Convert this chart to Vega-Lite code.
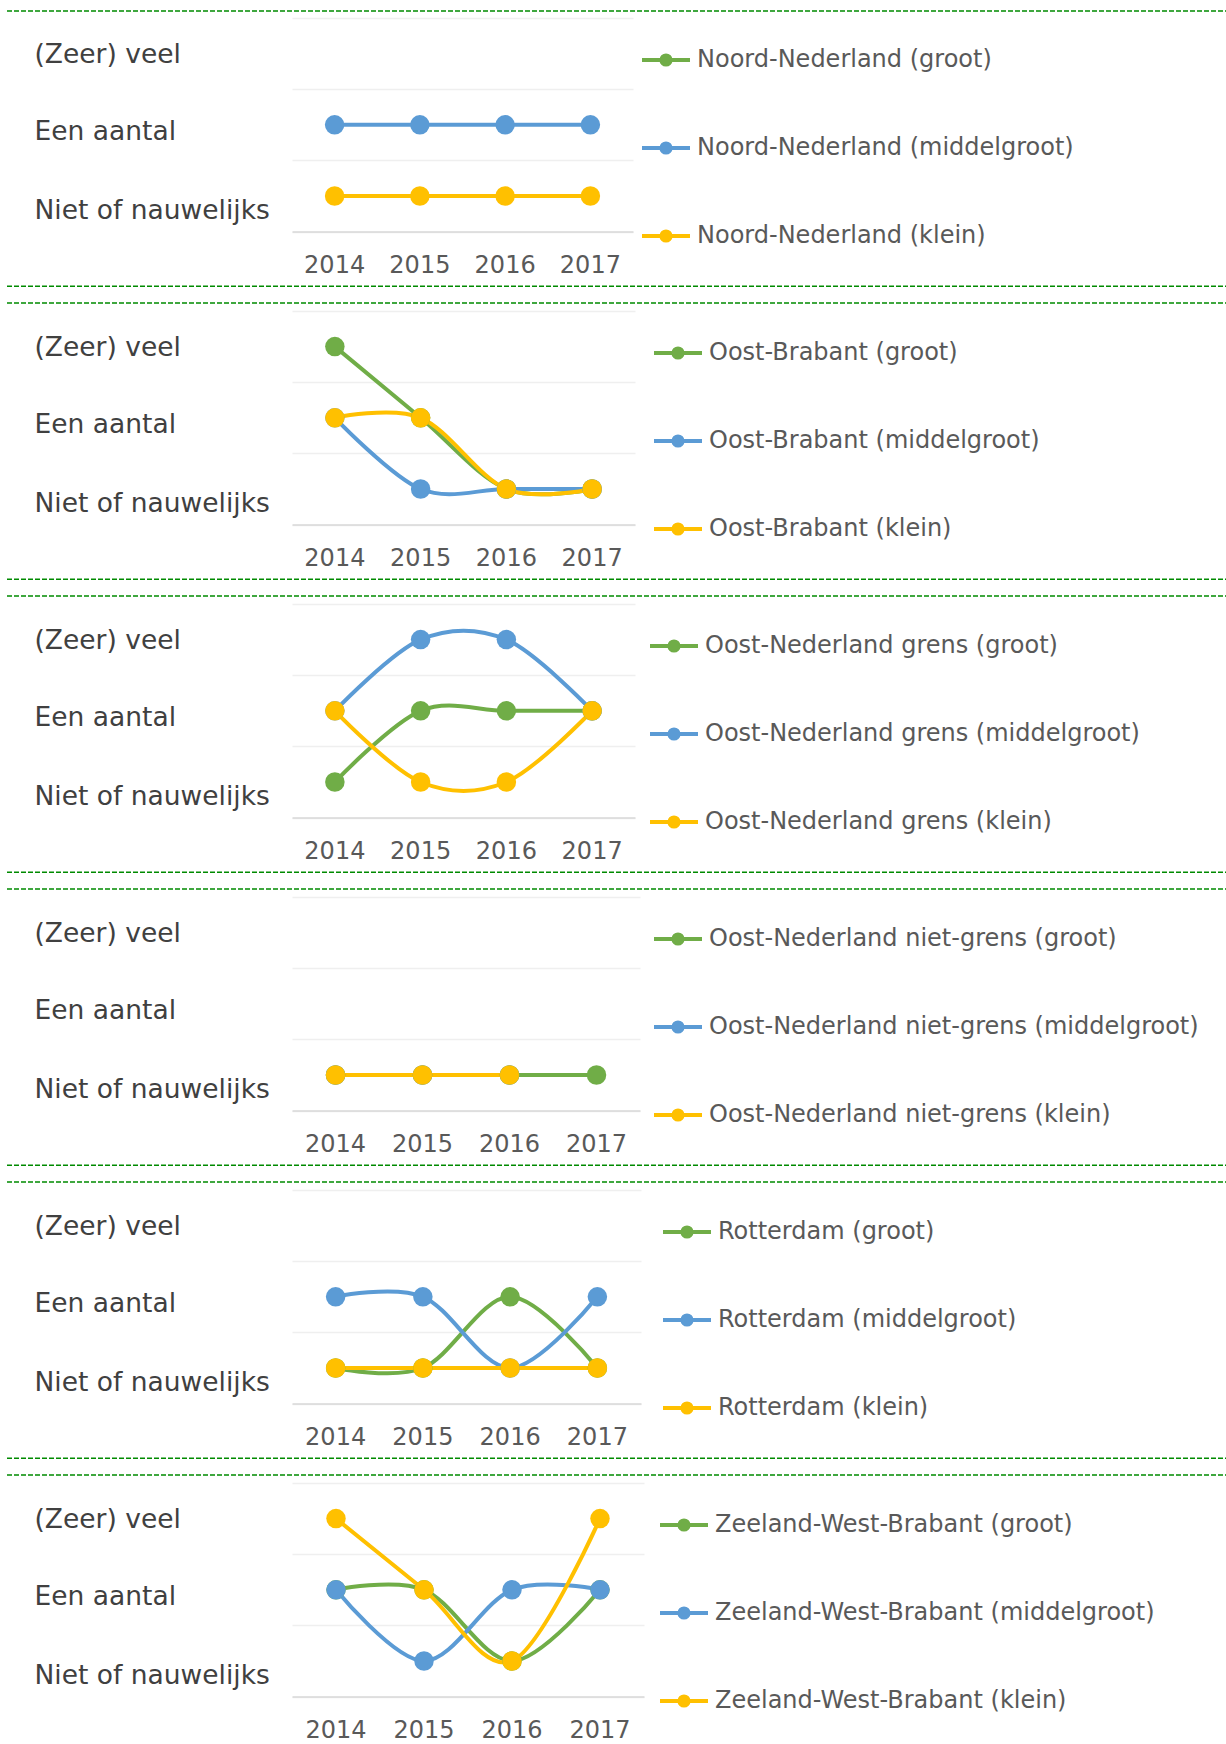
{
  "$schema": "https://vega.github.io/schema/vega-lite/v6.json",
  "padding": {"left": 6, "top": 5, "right": 0, "bottom": 0},
  "background": "white",
  "spacing": 0,
  "bounds": "flush",
  "resolve": {"scale": {"color": "independent"}},
  "config": {
    "view": {"stroke": null},
    "font": "DejaVu Sans",
    "concat": {"spacing": 0},
    "axisX": {"labelAngle": 0},
    "legend": {
      "orient": "none",
      "title": null,
      "padding": 0,
      "symbolType": "M-1,0H1M-0.02,0A0.02,0.02 0 1,1 0.02,0A0.02,0.02 0 1,1 -0.02,0M-0.117,0A0.117,0.117 0 1,1 0.117,0A0.117,0.117 0 1,1 -0.117,0M-0.19,0A0.19,0.19 0 1,1 0.19,0A0.19,0.19 0 1,1 -0.19,0",
      "symbolSize": 2304,
      "symbolStrokeWidth": 4,
      "symbolOpacity": 1,
      "labelFontSize": 24,
      "labelColor": "#595959",
      "labelFont": "DejaVu Sans",
      "labelOffset": 5,
      "labelLimit": 0,
      "rowPadding": 49,
      "legendY": 16
    }
  },
  "datasets": {
    "sep": [{"lijn": "boven"}, {"lijn": "onder"}],
    "sep1": [{"lijn": "boven"}],
    "d": [
      {"region": "Noord-Nederland", "series": "Noord-Nederland (middelgroot)", "year": "2014", "level": "Een aantal"},
      {"region": "Noord-Nederland", "series": "Noord-Nederland (middelgroot)", "year": "2015", "level": "Een aantal"},
      {"region": "Noord-Nederland", "series": "Noord-Nederland (middelgroot)", "year": "2016", "level": "Een aantal"},
      {"region": "Noord-Nederland", "series": "Noord-Nederland (middelgroot)", "year": "2017", "level": "Een aantal"},
      {"region": "Noord-Nederland", "series": "Noord-Nederland (klein)", "year": "2014", "level": "Niet of nauwelijks"},
      {"region": "Noord-Nederland", "series": "Noord-Nederland (klein)", "year": "2015", "level": "Niet of nauwelijks"},
      {"region": "Noord-Nederland", "series": "Noord-Nederland (klein)", "year": "2016", "level": "Niet of nauwelijks"},
      {"region": "Noord-Nederland", "series": "Noord-Nederland (klein)", "year": "2017", "level": "Niet of nauwelijks"},

      {"region": "Oost-Brabant", "series": "Oost-Brabant (groot)", "year": "2014", "level": "(Zeer) veel"},
      {"region": "Oost-Brabant", "series": "Oost-Brabant (groot)", "year": "2015", "level": "Een aantal"},
      {"region": "Oost-Brabant", "series": "Oost-Brabant (groot)", "year": "2016", "level": "Niet of nauwelijks"},
      {"region": "Oost-Brabant", "series": "Oost-Brabant (groot)", "year": "2017", "level": "Niet of nauwelijks"},
      {"region": "Oost-Brabant", "series": "Oost-Brabant (middelgroot)", "year": "2014", "level": "Een aantal"},
      {"region": "Oost-Brabant", "series": "Oost-Brabant (middelgroot)", "year": "2015", "level": "Niet of nauwelijks"},
      {"region": "Oost-Brabant", "series": "Oost-Brabant (middelgroot)", "year": "2016", "level": "Niet of nauwelijks"},
      {"region": "Oost-Brabant", "series": "Oost-Brabant (middelgroot)", "year": "2017", "level": "Niet of nauwelijks"},
      {"region": "Oost-Brabant", "series": "Oost-Brabant (klein)", "year": "2014", "level": "Een aantal"},
      {"region": "Oost-Brabant", "series": "Oost-Brabant (klein)", "year": "2015", "level": "Een aantal"},
      {"region": "Oost-Brabant", "series": "Oost-Brabant (klein)", "year": "2016", "level": "Niet of nauwelijks"},
      {"region": "Oost-Brabant", "series": "Oost-Brabant (klein)", "year": "2017", "level": "Niet of nauwelijks"},

      {"region": "Oost-Nederland grens", "series": "Oost-Nederland grens (groot)", "year": "2014", "level": "Niet of nauwelijks"},
      {"region": "Oost-Nederland grens", "series": "Oost-Nederland grens (groot)", "year": "2015", "level": "Een aantal"},
      {"region": "Oost-Nederland grens", "series": "Oost-Nederland grens (groot)", "year": "2016", "level": "Een aantal"},
      {"region": "Oost-Nederland grens", "series": "Oost-Nederland grens (groot)", "year": "2017", "level": "Een aantal"},
      {"region": "Oost-Nederland grens", "series": "Oost-Nederland grens (middelgroot)", "year": "2014", "level": "Een aantal"},
      {"region": "Oost-Nederland grens", "series": "Oost-Nederland grens (middelgroot)", "year": "2015", "level": "(Zeer) veel"},
      {"region": "Oost-Nederland grens", "series": "Oost-Nederland grens (middelgroot)", "year": "2016", "level": "(Zeer) veel"},
      {"region": "Oost-Nederland grens", "series": "Oost-Nederland grens (middelgroot)", "year": "2017", "level": "Een aantal"},
      {"region": "Oost-Nederland grens", "series": "Oost-Nederland grens (klein)", "year": "2014", "level": "Een aantal"},
      {"region": "Oost-Nederland grens", "series": "Oost-Nederland grens (klein)", "year": "2015", "level": "Niet of nauwelijks"},
      {"region": "Oost-Nederland grens", "series": "Oost-Nederland grens (klein)", "year": "2016", "level": "Niet of nauwelijks"},
      {"region": "Oost-Nederland grens", "series": "Oost-Nederland grens (klein)", "year": "2017", "level": "Een aantal"},

      {"region": "Oost-Nederland niet-grens", "series": "Oost-Nederland niet-grens (groot)", "year": "2014", "level": "Niet of nauwelijks"},
      {"region": "Oost-Nederland niet-grens", "series": "Oost-Nederland niet-grens (groot)", "year": "2015", "level": "Niet of nauwelijks"},
      {"region": "Oost-Nederland niet-grens", "series": "Oost-Nederland niet-grens (groot)", "year": "2016", "level": "Niet of nauwelijks"},
      {"region": "Oost-Nederland niet-grens", "series": "Oost-Nederland niet-grens (groot)", "year": "2017", "level": "Niet of nauwelijks"},
      {"region": "Oost-Nederland niet-grens", "series": "Oost-Nederland niet-grens (middelgroot)", "year": "2014", "level": "Niet of nauwelijks"},
      {"region": "Oost-Nederland niet-grens", "series": "Oost-Nederland niet-grens (middelgroot)", "year": "2015", "level": "Niet of nauwelijks"},
      {"region": "Oost-Nederland niet-grens", "series": "Oost-Nederland niet-grens (middelgroot)", "year": "2016", "level": "Niet of nauwelijks"},
      {"region": "Oost-Nederland niet-grens", "series": "Oost-Nederland niet-grens (klein)", "year": "2014", "level": "Niet of nauwelijks"},
      {"region": "Oost-Nederland niet-grens", "series": "Oost-Nederland niet-grens (klein)", "year": "2015", "level": "Niet of nauwelijks"},
      {"region": "Oost-Nederland niet-grens", "series": "Oost-Nederland niet-grens (klein)", "year": "2016", "level": "Niet of nauwelijks"},

      {"region": "Rotterdam", "series": "Rotterdam (groot)", "year": "2014", "level": "Niet of nauwelijks"},
      {"region": "Rotterdam", "series": "Rotterdam (groot)", "year": "2015", "level": "Niet of nauwelijks"},
      {"region": "Rotterdam", "series": "Rotterdam (groot)", "year": "2016", "level": "Een aantal"},
      {"region": "Rotterdam", "series": "Rotterdam (groot)", "year": "2017", "level": "Niet of nauwelijks"},
      {"region": "Rotterdam", "series": "Rotterdam (middelgroot)", "year": "2014", "level": "Een aantal"},
      {"region": "Rotterdam", "series": "Rotterdam (middelgroot)", "year": "2015", "level": "Een aantal"},
      {"region": "Rotterdam", "series": "Rotterdam (middelgroot)", "year": "2016", "level": "Niet of nauwelijks"},
      {"region": "Rotterdam", "series": "Rotterdam (middelgroot)", "year": "2017", "level": "Een aantal"},
      {"region": "Rotterdam", "series": "Rotterdam (klein)", "year": "2014", "level": "Niet of nauwelijks"},
      {"region": "Rotterdam", "series": "Rotterdam (klein)", "year": "2015", "level": "Niet of nauwelijks"},
      {"region": "Rotterdam", "series": "Rotterdam (klein)", "year": "2016", "level": "Niet of nauwelijks"},
      {"region": "Rotterdam", "series": "Rotterdam (klein)", "year": "2017", "level": "Niet of nauwelijks"},

      {"region": "Zeeland-West-Brabant", "series": "Zeeland-West-Brabant (groot)", "year": "2014", "level": "Een aantal"},
      {"region": "Zeeland-West-Brabant", "series": "Zeeland-West-Brabant (groot)", "year": "2015", "level": "Een aantal"},
      {"region": "Zeeland-West-Brabant", "series": "Zeeland-West-Brabant (groot)", "year": "2016", "level": "Niet of nauwelijks"},
      {"region": "Zeeland-West-Brabant", "series": "Zeeland-West-Brabant (groot)", "year": "2017", "level": "Een aantal"},
      {"region": "Zeeland-West-Brabant", "series": "Zeeland-West-Brabant (middelgroot)", "year": "2014", "level": "Een aantal"},
      {"region": "Zeeland-West-Brabant", "series": "Zeeland-West-Brabant (middelgroot)", "year": "2015", "level": "Niet of nauwelijks"},
      {"region": "Zeeland-West-Brabant", "series": "Zeeland-West-Brabant (middelgroot)", "year": "2016", "level": "Een aantal"},
      {"region": "Zeeland-West-Brabant", "series": "Zeeland-West-Brabant (middelgroot)", "year": "2017", "level": "Een aantal"},
      {"region": "Zeeland-West-Brabant", "series": "Zeeland-West-Brabant (klein)", "year": "2014", "level": "(Zeer) veel"},
      {"region": "Zeeland-West-Brabant", "series": "Zeeland-West-Brabant (klein)", "year": "2015", "level": "Een aantal"},
      {"region": "Zeeland-West-Brabant", "series": "Zeeland-West-Brabant (klein)", "year": "2016", "level": "Niet of nauwelijks"},
      {"region": "Zeeland-West-Brabant", "series": "Zeeland-West-Brabant (klein)", "year": "2017", "level": "(Zeer) veel"}
    ]
  },
  "vconcat": [
    {
      "data": {"name": "sep1"}, "width": 341, "height": 7,
      "mark": {"type": "rule", "color": "#008A00", "strokeDash": [5, 2], "strokeWidth": 1.5},
      "encoding": {
        "x": {"datum": 0, "type": "quantitative", "scale": {"domain": [0, 1], "range": [-285, 935]}, "axis": null},
        "x2": {"datum": 1},
        "y": {"field": "lijn", "type": "nominal", "scale": {"type": "point", "domain": ["boven"], "range": [0, 0], "padding": 0}, "axis": null}
      }
    },
    {
      "data": {"name": "d"}, "width": 341, "height": 213.6,
      "transform": [{"filter": {"field": "region", "equal": "Noord-Nederland"}}],
      "mark": {"type": "line", "interpolate": "cardinal", "strokeWidth": 4, "opacity": 1, "point": {"filled": true, "size": 380, "opacity": 1}},
      "encoding": {
        "x": {"field": "year", "type": "ordinal", "bandPosition": 0.5, "scale": {"type": "band", "domain": ["2014", "2015", "2016", "2017"], "paddingInner": 0, "paddingOuter": 0}, "axis": {"title": null, "ticks": false, "domainColor": "#D9D9D9", "domainWidth": 1.5, "labelFontSize": 24, "labelColor": "#595959", "labelPadding": 22}},
        "y": {"field": "level", "type": "ordinal", "bandPosition": 0.5, "scale": {"type": "band", "domain": ["(Zeer) veel", "Een aantal", "Niet of nauwelijks"], "paddingInner": 0, "paddingOuter": 0}, "axis": {"title": null, "tickBand": "extent", "grid": true, "gridColor": "#EFEFEF", "gridWidth": 1.5, "ticks": false, "tickSize": 0, "domain": false, "labelAlign": "left", "labelPadding": 258, "labelLimit": 0, "labelFontSize": 26.5, "labelColor": "#404040", "labelOffset": {"condition": [{"test": "datum.value === 'Niet of nauwelijks'", "value": 14}, {"test": "datum.value === 'Een aantal'", "value": 7}], "value": 1}}},
        "color": {"field": "series", "type": "nominal", "scale": {"domain": ["Noord-Nederland (groot)", "Noord-Nederland (middelgroot)", "Noord-Nederland (klein)"], "range": ["#70AD47", "#5B9BD5", "#FFC000"]}, "legend": {"legendX": 348}}
      }
    },
    {
      "data": {"name": "sep"}, "width": 341, "height": 78.8,
      "mark": {"type": "rule", "color": "#008A00", "strokeDash": [5, 2], "strokeWidth": 1.5},
      "encoding": {
        "x": {"datum": 0, "type": "quantitative", "scale": {"domain": [0, 1], "range": [-285, 935]}, "axis": null},
        "x2": {"datum": 1},
        "y": {"field": "lijn", "type": "nominal", "scale": {"type": "point", "domain": ["boven", "onder"], "range": [54.3, 71.1], "padding": 0}, "axis": null}
      }
    },
    {
      "data": {"name": "d"}, "width": 343, "height": 213.6,
      "transform": [{"filter": {"field": "region", "equal": "Oost-Brabant"}}],
      "mark": {"type": "line", "interpolate": "cardinal", "strokeWidth": 4, "opacity": 1, "point": {"filled": true, "size": 380, "opacity": 1}},
      "encoding": {
        "x": {"field": "year", "type": "ordinal", "bandPosition": 0.5, "scale": {"type": "band", "domain": ["2014", "2015", "2016", "2017"], "paddingInner": 0, "paddingOuter": 0}, "axis": {"title": null, "ticks": false, "domainColor": "#D9D9D9", "domainWidth": 1.5, "labelFontSize": 24, "labelColor": "#595959", "labelPadding": 22}},
        "y": {"field": "level", "type": "ordinal", "bandPosition": 0.5, "scale": {"type": "band", "domain": ["(Zeer) veel", "Een aantal", "Niet of nauwelijks"], "paddingInner": 0, "paddingOuter": 0}, "axis": {"title": null, "tickBand": "extent", "grid": true, "gridColor": "#EFEFEF", "gridWidth": 1.5, "ticks": false, "tickSize": 0, "domain": false, "labelAlign": "left", "labelPadding": 258, "labelLimit": 0, "labelFontSize": 26.5, "labelColor": "#404040", "labelOffset": {"condition": [{"test": "datum.value === 'Niet of nauwelijks'", "value": 14}, {"test": "datum.value === 'Een aantal'", "value": 7}], "value": 1}}},
        "color": {"field": "series", "type": "nominal", "scale": {"domain": ["Oost-Brabant (groot)", "Oost-Brabant (middelgroot)", "Oost-Brabant (klein)"], "range": ["#70AD47", "#5B9BD5", "#FFC000"]}, "legend": {"legendX": 360}}
      }
    },
    {
      "data": {"name": "sep"}, "width": 341, "height": 78.8,
      "mark": {"type": "rule", "color": "#008A00", "strokeDash": [5, 2], "strokeWidth": 1.5},
      "encoding": {
        "x": {"datum": 0, "type": "quantitative", "scale": {"domain": [0, 1], "range": [-285, 935]}, "axis": null},
        "x2": {"datum": 1},
        "y": {"field": "lijn", "type": "nominal", "scale": {"type": "point", "domain": ["boven", "onder"], "range": [54.3, 71.1], "padding": 0}, "axis": null}
      }
    },
    {
      "data": {"name": "d"}, "width": 343, "height": 213.6,
      "transform": [{"filter": {"field": "region", "equal": "Oost-Nederland grens"}}],
      "mark": {"type": "line", "interpolate": "cardinal", "strokeWidth": 4, "opacity": 1, "point": {"filled": true, "size": 380, "opacity": 1}},
      "encoding": {
        "x": {"field": "year", "type": "ordinal", "bandPosition": 0.5, "scale": {"type": "band", "domain": ["2014", "2015", "2016", "2017"], "paddingInner": 0, "paddingOuter": 0}, "axis": {"title": null, "ticks": false, "domainColor": "#D9D9D9", "domainWidth": 1.5, "labelFontSize": 24, "labelColor": "#595959", "labelPadding": 22}},
        "y": {"field": "level", "type": "ordinal", "bandPosition": 0.5, "scale": {"type": "band", "domain": ["(Zeer) veel", "Een aantal", "Niet of nauwelijks"], "paddingInner": 0, "paddingOuter": 0}, "axis": {"title": null, "tickBand": "extent", "grid": true, "gridColor": "#EFEFEF", "gridWidth": 1.5, "ticks": false, "tickSize": 0, "domain": false, "labelAlign": "left", "labelPadding": 258, "labelLimit": 0, "labelFontSize": 26.5, "labelColor": "#404040", "labelOffset": {"condition": [{"test": "datum.value === 'Niet of nauwelijks'", "value": 14}, {"test": "datum.value === 'Een aantal'", "value": 7}], "value": 1}}},
        "color": {"field": "series", "type": "nominal", "scale": {"domain": ["Oost-Nederland grens (groot)", "Oost-Nederland grens (middelgroot)", "Oost-Nederland grens (klein)"], "range": ["#70AD47", "#5B9BD5", "#FFC000"]}, "legend": {"legendX": 356}}
      }
    },
    {
      "data": {"name": "sep"}, "width": 341, "height": 78.8,
      "mark": {"type": "rule", "color": "#008A00", "strokeDash": [5, 2], "strokeWidth": 1.5},
      "encoding": {
        "x": {"datum": 0, "type": "quantitative", "scale": {"domain": [0, 1], "range": [-285, 935]}, "axis": null},
        "x2": {"datum": 1},
        "y": {"field": "lijn", "type": "nominal", "scale": {"type": "point", "domain": ["boven", "onder"], "range": [54.3, 71.1], "padding": 0}, "axis": null}
      }
    },
    {
      "data": {"name": "d"}, "width": 348, "height": 213.6,
      "transform": [{"filter": {"field": "region", "equal": "Oost-Nederland niet-grens"}}],
      "mark": {"type": "line", "interpolate": "cardinal", "strokeWidth": 4, "opacity": 1, "point": {"filled": true, "size": 380, "opacity": 1}},
      "encoding": {
        "x": {"field": "year", "type": "ordinal", "bandPosition": 0.5, "scale": {"type": "band", "domain": ["2014", "2015", "2016", "2017"], "paddingInner": 0, "paddingOuter": 0}, "axis": {"title": null, "ticks": false, "domainColor": "#D9D9D9", "domainWidth": 1.5, "labelFontSize": 24, "labelColor": "#595959", "labelPadding": 22}},
        "y": {"field": "level", "type": "ordinal", "bandPosition": 0.5, "scale": {"type": "band", "domain": ["(Zeer) veel", "Een aantal", "Niet of nauwelijks"], "paddingInner": 0, "paddingOuter": 0}, "axis": {"title": null, "tickBand": "extent", "grid": true, "gridColor": "#EFEFEF", "gridWidth": 1.5, "ticks": false, "tickSize": 0, "domain": false, "labelAlign": "left", "labelPadding": 258, "labelLimit": 0, "labelFontSize": 26.5, "labelColor": "#404040", "labelOffset": {"condition": [{"test": "datum.value === 'Niet of nauwelijks'", "value": 14}, {"test": "datum.value === 'Een aantal'", "value": 7}], "value": 1}}},
        "color": {"field": "series", "type": "nominal", "scale": {"domain": ["Oost-Nederland niet-grens (groot)", "Oost-Nederland niet-grens (middelgroot)", "Oost-Nederland niet-grens (klein)"], "range": ["#70AD47", "#5B9BD5", "#FFC000"]}, "legend": {"legendX": 360}}
      }
    },
    {
      "data": {"name": "sep"}, "width": 341, "height": 78.8,
      "mark": {"type": "rule", "color": "#008A00", "strokeDash": [5, 2], "strokeWidth": 1.5},
      "encoding": {
        "x": {"datum": 0, "type": "quantitative", "scale": {"domain": [0, 1], "range": [-285, 935]}, "axis": null},
        "x2": {"datum": 1},
        "y": {"field": "lijn", "type": "nominal", "scale": {"type": "point", "domain": ["boven", "onder"], "range": [54.3, 71.1], "padding": 0}, "axis": null}
      }
    },
    {
      "data": {"name": "d"}, "width": 349, "height": 213.6,
      "transform": [{"filter": {"field": "region", "equal": "Rotterdam"}}],
      "mark": {"type": "line", "interpolate": "cardinal", "strokeWidth": 4, "opacity": 1, "point": {"filled": true, "size": 380, "opacity": 1}},
      "encoding": {
        "x": {"field": "year", "type": "ordinal", "bandPosition": 0.5, "scale": {"type": "band", "domain": ["2014", "2015", "2016", "2017"], "paddingInner": 0, "paddingOuter": 0}, "axis": {"title": null, "ticks": false, "domainColor": "#D9D9D9", "domainWidth": 1.5, "labelFontSize": 24, "labelColor": "#595959", "labelPadding": 22}},
        "y": {"field": "level", "type": "ordinal", "bandPosition": 0.5, "scale": {"type": "band", "domain": ["(Zeer) veel", "Een aantal", "Niet of nauwelijks"], "paddingInner": 0, "paddingOuter": 0}, "axis": {"title": null, "tickBand": "extent", "grid": true, "gridColor": "#EFEFEF", "gridWidth": 1.5, "ticks": false, "tickSize": 0, "domain": false, "labelAlign": "left", "labelPadding": 258, "labelLimit": 0, "labelFontSize": 26.5, "labelColor": "#404040", "labelOffset": {"condition": [{"test": "datum.value === 'Niet of nauwelijks'", "value": 14}, {"test": "datum.value === 'Een aantal'", "value": 7}], "value": 1}}},
        "color": {"field": "series", "type": "nominal", "scale": {"domain": ["Rotterdam (groot)", "Rotterdam (middelgroot)", "Rotterdam (klein)"], "range": ["#70AD47", "#5B9BD5", "#FFC000"]}, "legend": {"legendX": 369}}
      }
    },
    {
      "data": {"name": "sep"}, "width": 341, "height": 78.8,
      "mark": {"type": "rule", "color": "#008A00", "strokeDash": [5, 2], "strokeWidth": 1.5},
      "encoding": {
        "x": {"datum": 0, "type": "quantitative", "scale": {"domain": [0, 1], "range": [-285, 935]}, "axis": null},
        "x2": {"datum": 1},
        "y": {"field": "lijn", "type": "nominal", "scale": {"type": "point", "domain": ["boven", "onder"], "range": [54.3, 71.1], "padding": 0}, "axis": null}
      }
    },
    {
      "data": {"name": "d"}, "width": 352, "height": 213.6,
      "transform": [{"filter": {"field": "region", "equal": "Zeeland-West-Brabant"}}],
      "mark": {"type": "line", "interpolate": "cardinal", "strokeWidth": 4, "opacity": 1, "point": {"filled": true, "size": 380, "opacity": 1}},
      "encoding": {
        "x": {"field": "year", "type": "ordinal", "bandPosition": 0.5, "scale": {"type": "band", "domain": ["2014", "2015", "2016", "2017"], "paddingInner": 0, "paddingOuter": 0}, "axis": {"title": null, "ticks": false, "domainColor": "#D9D9D9", "domainWidth": 1.5, "labelFontSize": 24, "labelColor": "#595959", "labelPadding": 22}},
        "y": {"field": "level", "type": "ordinal", "bandPosition": 0.5, "scale": {"type": "band", "domain": ["(Zeer) veel", "Een aantal", "Niet of nauwelijks"], "paddingInner": 0, "paddingOuter": 0}, "axis": {"title": null, "tickBand": "extent", "grid": true, "gridColor": "#EFEFEF", "gridWidth": 1.5, "ticks": false, "tickSize": 0, "domain": false, "labelAlign": "left", "labelPadding": 258, "labelLimit": 0, "labelFontSize": 26.5, "labelColor": "#404040", "labelOffset": {"condition": [{"test": "datum.value === 'Niet of nauwelijks'", "value": 14}, {"test": "datum.value === 'Een aantal'", "value": 7}], "value": 1}}},
        "color": {"field": "series", "type": "nominal", "scale": {"domain": ["Zeeland-West-Brabant (groot)", "Zeeland-West-Brabant (middelgroot)", "Zeeland-West-Brabant (klein)"], "range": ["#70AD47", "#5B9BD5", "#FFC000"]}, "legend": {"legendX": 366}}
      }
    }
  ]
}
